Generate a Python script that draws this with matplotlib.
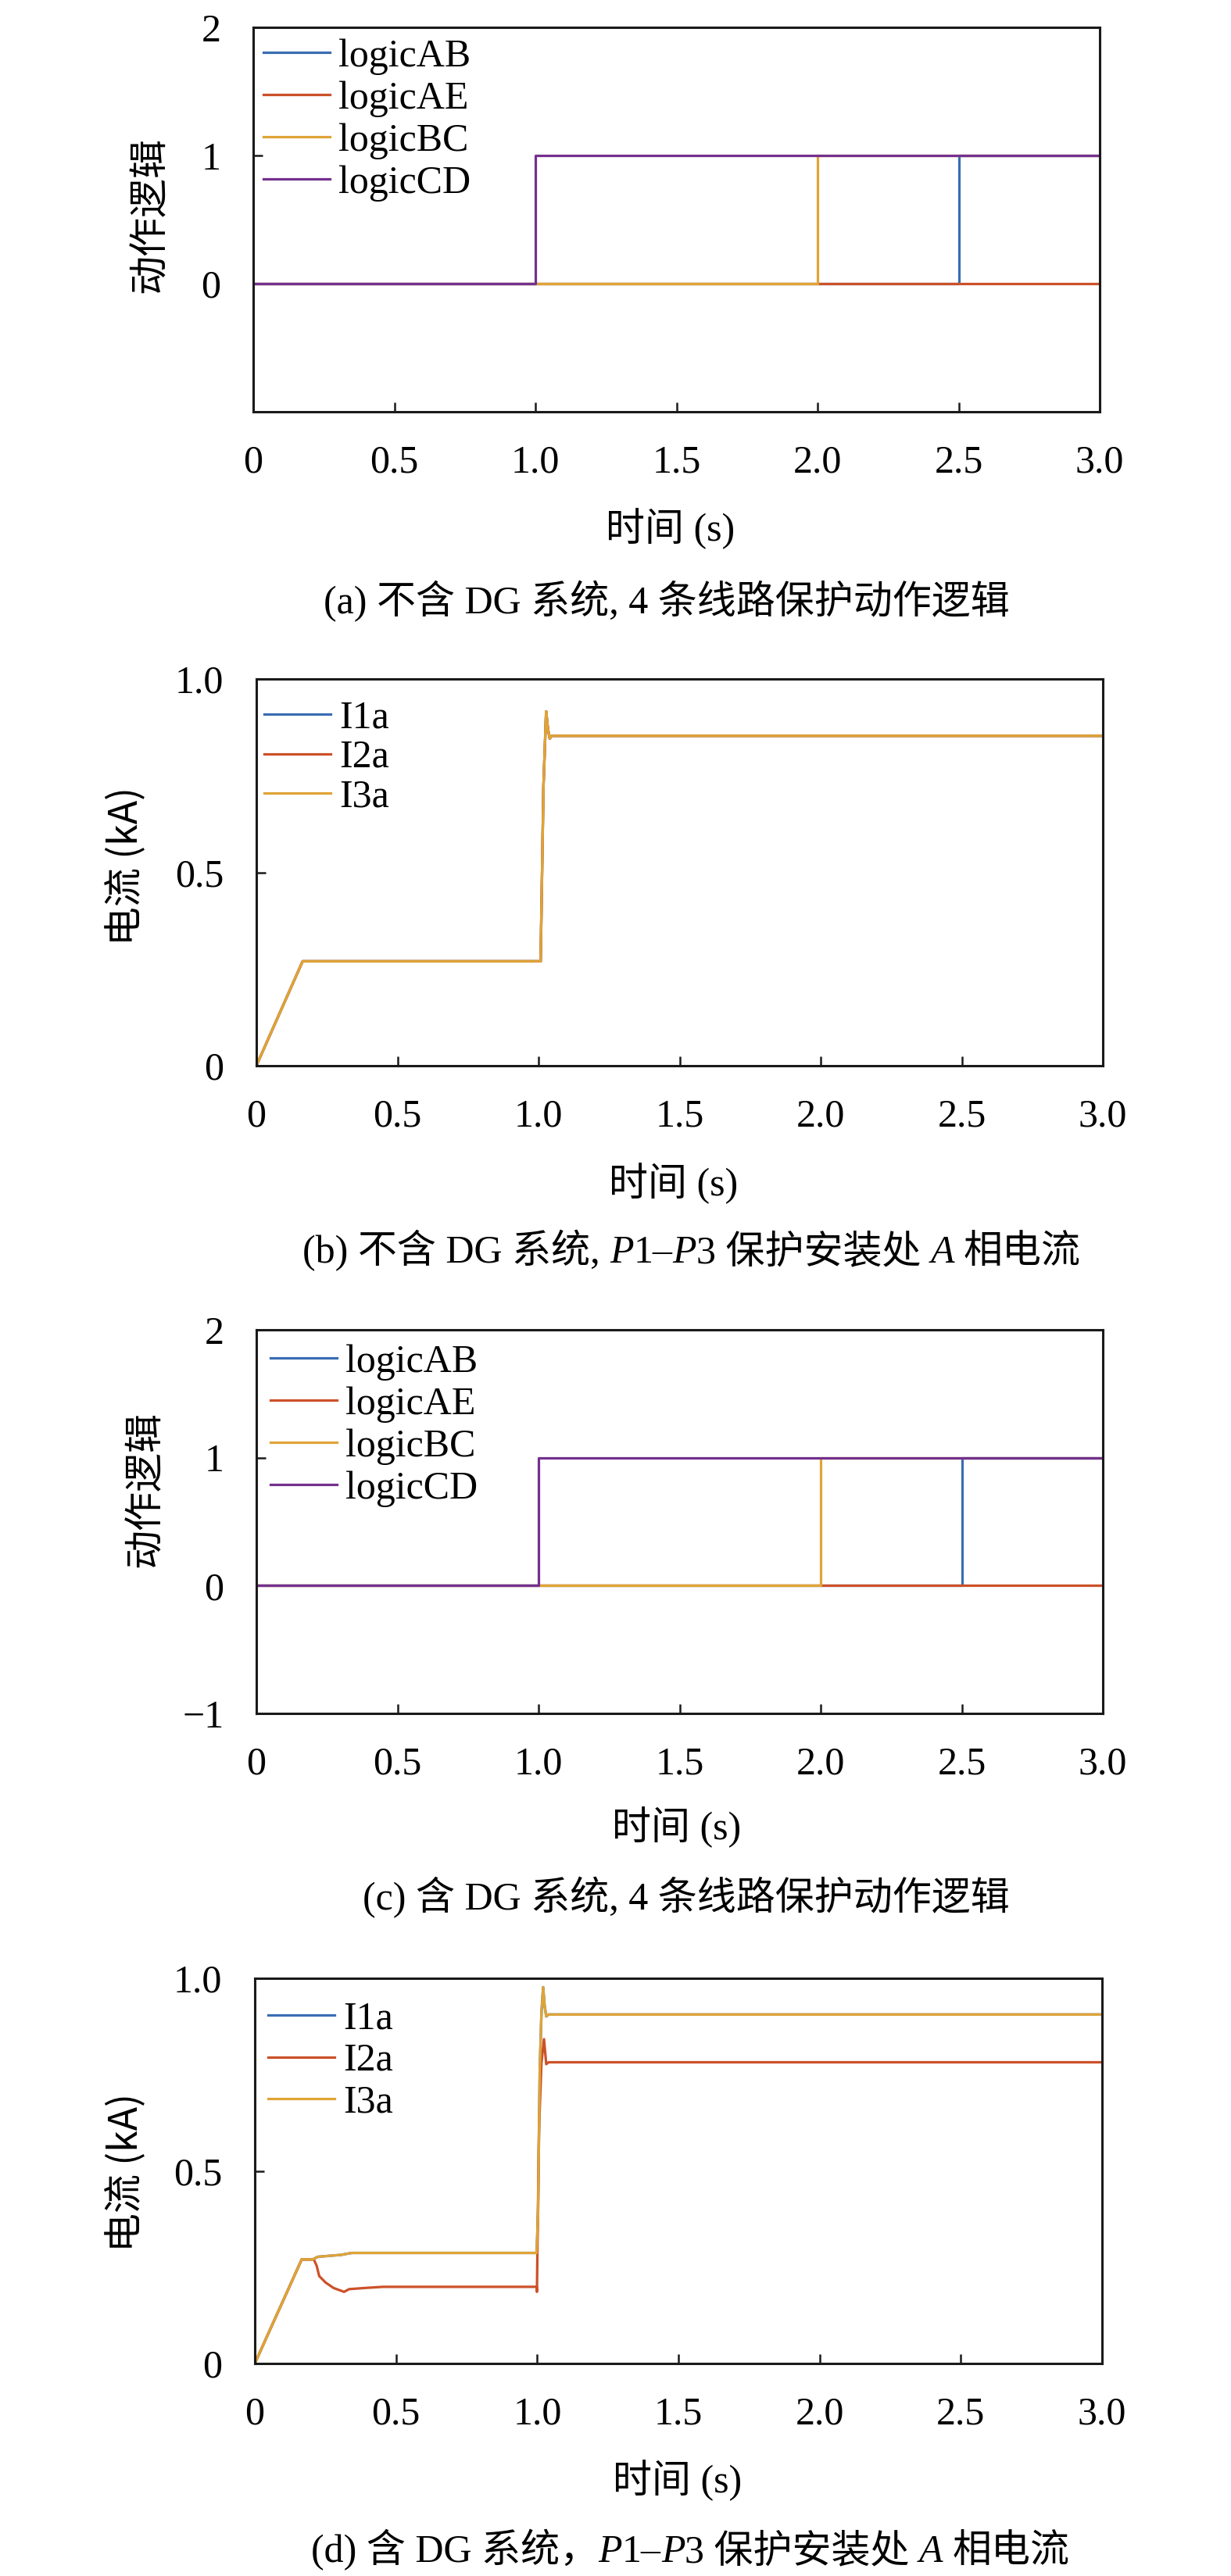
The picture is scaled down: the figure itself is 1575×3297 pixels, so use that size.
import matplotlib
matplotlib.use("Agg")
import matplotlib.pyplot as plt
from matplotlib.transforms import IdentityTransform

# ---------------- data ----------------
t_logic = [0.0, 1.0, 2.0, 2.5, 3.0]
logicAB_a = [0, 0, 0, 1, 1]
logicAE_a = [0, 0, 0, 0, 0]
logicBC_a = [0, 0, 1, 1, 1]
logicCD_a = [0, 1, 1, 1, 1]

logicAB_c = [0, 0, 0, 1, 1]
logicAE_c = [0, 0, 0, 0, 0]
logicBC_c = [0, 0, 1, 1, 1]
logicCD_c = [0, 1, 1, 1, 1]

t_b = [0.0, 0.164, 1.0075, 1.0175, 1.027, 1.0335, 1.040, 1.047, 3.0]
I1a_b = [0.0, 0.270, 0.270, 0.722, 0.916, 0.870, 0.846, 0.853, 0.853]
I2a_b = [0.0, 0.270, 0.270, 0.722, 0.916, 0.870, 0.846, 0.853, 0.853]
I3a_b = [0.0, 0.270, 0.270, 0.722, 0.916, 0.870, 0.846, 0.853, 0.853]

t_d13 = [0.0, 0.166, 0.205, 0.223, 0.306, 0.343, 0.998, 1.003, 1.009,
         1.015, 1.021, 1.026, 1.032, 1.040, 3.0]
I1a_d = [0.0, 0.270, 0.270, 0.277, 0.282, 0.287, 0.287, 0.390, 0.760,
         0.909, 0.977, 0.930, 0.901, 0.906, 0.906]
I3a_d = [0.0, 0.270, 0.270, 0.277, 0.282, 0.287, 0.287, 0.390, 0.760,
         0.909, 0.977, 0.930, 0.901, 0.906, 0.906]
t_d2 = [0.0, 0.166, 0.209, 0.219, 0.228, 0.251, 0.279, 0.316, 0.334,
        0.389, 0.454, 0.998, 0.999, 1.006, 1.015, 1.024, 1.032, 1.040, 3.0]
I2a_d = [0.0, 0.270, 0.270, 0.254, 0.227, 0.210, 0.196, 0.186, 0.193,
         0.196, 0.199, 0.199, 0.186, 0.600, 0.780, 0.842, 0.777, 0.782, 0.782]

xticks = [0, 0.5, 1.0, 1.5, 2.0, 2.5, 3.0]
xticklabels = ["0", "0.5", "1.0", "1.5", "2.0", "2.5", "3.0"]
logic_yticks = [-1, 0, 1, 2]
logic_yticklabels_a = ["", "0", "1", "2"]
logic_yticklabels_c = ["\u22121", "0", "1", "2"]
cur_yticks = [0, 0.5, 1.0]
cur_yticklabels = ["0", "0.5", "1.0"]

# ---------------- style ----------------
W, H, DPI = 1575, 3297, 100
FAM = ["Liberation Serif", "Noto Sans CJK SC"]
plt.rcParams["font.family"] = FAM
C_BLUE = "#3a6db3"
C_RED = "#cc5129"
C_ORG = "#e0a436"
C_PUR = "#74308e"
FS = 36
LW = 2.3

fig = plt.figure(figsize=(W / DPI, H / DPI), dpi=DPI)


def make_axes(L, R, T, B):
    return fig.add_axes([L / W, 1 - B / H, (R - L) / W, (B - T) / H])


def style_axes(ax, L, R, T, B, ylab, ylab_x, ylab_y, ylab_fam, xlab_x, xlab_y):
    for s in ax.spines.values():
        s.set_linewidth(2.2)
        s.set_color("#1a1a1a")
    ax.tick_params(direction="in", length=8.6, width=1.8, pad=30,
                   labelsize=FS, top=False, right=False, color="#1a1a1a")
    ax.set_xlim(0, 3.0)
    ax.set_xticks(xticks)
    ax.set_xticklabels(xticklabels)
    ax.set_xlabel("时间 (s)", fontsize=FS, va="center", ha="center")
    ax.xaxis.set_label_coords((xlab_x - L) / (R - L), (B - xlab_y) / (B - T))
    ax.set_ylabel(ylab, fontsize=FS, va="center", ha="center", family=ylab_fam)
    ax.yaxis.set_label_coords((ylab_x - L) / (R - L), (B - ylab_y) / (B - T))


def legend(ax, L, R, T, B, dx, dtop, spacing):
    ax.legend(loc="upper left", frameon=False, fontsize=FS,
              bbox_to_anchor=(dx / (R - L), 1 - dtop / (B - T)),
              borderaxespad=0, borderpad=0, handlelength=1.7,
              handletextpad=0.22, labelspacing=spacing)


def caption(pieces, cx, cy):
    r = fig.canvas.get_renderer()
    base = H - (cy + 17)
    objs = []
    widths = []
    for s, st in pieces:
        if s == "":
            objs.append(None)
            widths.append(st)
            continue
        t = fig.text(0, base, s, fontsize=FS, style=st, family=FAM,
                     ha="left", va="baseline", transform=IdentityTransform())
        objs.append(t)
        widths.append(t.get_window_extent(r).width)
    total = sum(widths)
    x = cx - total / 2
    for o, w in zip(objs, widths):
        if o is not None:
            o.set_x(x)
        x += w


# ---------------- (a) ----------------
La, Ra, Ta, Ba = 324, 1407, 35, 527
ax = make_axes(La, Ra, Ta, Ba)
ax.plot(t_logic, logicAB_a, drawstyle="steps-post", color=C_BLUE, lw=LW, label="logicAB")
ax.plot(t_logic, logicAE_a, drawstyle="steps-post", color=C_RED, lw=LW, label="logicAE")
ax.plot(t_logic, logicBC_a, drawstyle="steps-post", color=C_ORG, lw=LW, label="logicBC")
ax.plot(t_logic, logicCD_a, drawstyle="steps-post", color=C_PUR, lw=LW, label="logicCD")
ax.set_ylim(-1, 2)
ax.set_yticks(logic_yticks)
ax.set_yticklabels(logic_yticklabels_a)
style_axes(ax, La, Ra, Ta, Ba, "动作逻辑", 193, 275, FAM, 858, 677)
legend(ax, La, Ra, Ta, Ba, 13, 14, 0.15)
caption([("(a) 不含 DG 系统, 4 条线路保护动作逻辑", "normal")], 853, 768)

# ---------------- (b) ----------------
Lb, Rb, Tb, Bb = 328, 1411, 869, 1364
ax = make_axes(Lb, Rb, Tb, Bb)
ax.plot(t_b, I1a_b, color=C_BLUE, lw=LW, label="I1a")
ax.plot(t_b, I2a_b, color=C_RED, lw=LW, label="I2a")
ax.plot(t_b, I3a_b, color=C_ORG, lw=LW, label="I3a")
ax.set_ylim(0, 1.0)
ax.set_yticks(cur_yticks)
ax.set_yticklabels(cur_yticklabels)
style_axes(ax, Lb, Rb, Tb, Bb, "电流 (kA)", 162, 1109, ["Noto Sans CJK SC"], 862, 1515)
legend(ax, Lb, Rb, Tb, Bb, 10, 27, 0.08)
caption([("(b) 不含 DG 系统,", "normal"), ("", 12), ("P", "italic"), ("1–", "normal"),
         ("P", "italic"), ("3 保护安装处", "normal"), ("", 12), ("A", "italic"),
         ("", 12), ("相电流", "normal")], 885, 1599)

# ---------------- (c) ----------------
Lc, Rc, Tc, Bc = 328, 1411, 1702, 2193
ax = make_axes(Lc, Rc, Tc, Bc)
ax.plot(t_logic, logicAB_c, drawstyle="steps-post", color=C_BLUE, lw=LW, label="logicAB")
ax.plot(t_logic, logicAE_c, drawstyle="steps-post", color=C_RED, lw=LW, label="logicAE")
ax.plot(t_logic, logicBC_c, drawstyle="steps-post", color=C_ORG, lw=LW, label="logicBC")
ax.plot(t_logic, logicCD_c, drawstyle="steps-post", color=C_PUR, lw=LW, label="logicCD")
ax.set_ylim(-1, 2)
ax.set_yticks(logic_yticks)
ax.set_yticklabels(logic_yticklabels_c)
style_axes(ax, Lc, Rc, Tc, Bc, "动作逻辑", 187, 1906, FAM, 866, 2339)
legend(ax, Lc, Rc, Tc, Bc, 18, 18, 0.15)
caption([("(c) 含 DG 系统, 4 条线路保护动作逻辑", "normal")], 878, 2427)

# ---------------- (d) ----------------
Ld, Rd, Td, Bd = 326, 1410, 2532, 3025
ax = make_axes(Ld, Rd, Td, Bd)
ax.plot(t_d13, I1a_d, color=C_BLUE, lw=LW, label="I1a")
ax.plot(t_d2, I2a_d, color=C_RED, lw=LW, label="I2a")
ax.plot(t_d13, I3a_d, color=C_ORG, lw=LW, label="I3a")
ax.set_ylim(0, 1.0)
ax.set_yticks(cur_yticks)
ax.set_yticklabels(cur_yticklabels)
style_axes(ax, Ld, Rd, Td, Bd, "电流 (kA)", 162, 2780, ["Noto Sans CJK SC"], 867, 3175)
legend(ax, Ld, Rd, Td, Bd, 17, 29, 0.14)
caption([("(d) 含 DG 系统，", "normal"), ("P", "italic"), ("1–", "normal"),
         ("P", "italic"), ("3 保护安装处", "normal"), ("", 12), ("A", "italic"),
         ("", 12), ("相电流", "normal")], 883, 3262)

fig.savefig("out.png", dpi=DPI)
